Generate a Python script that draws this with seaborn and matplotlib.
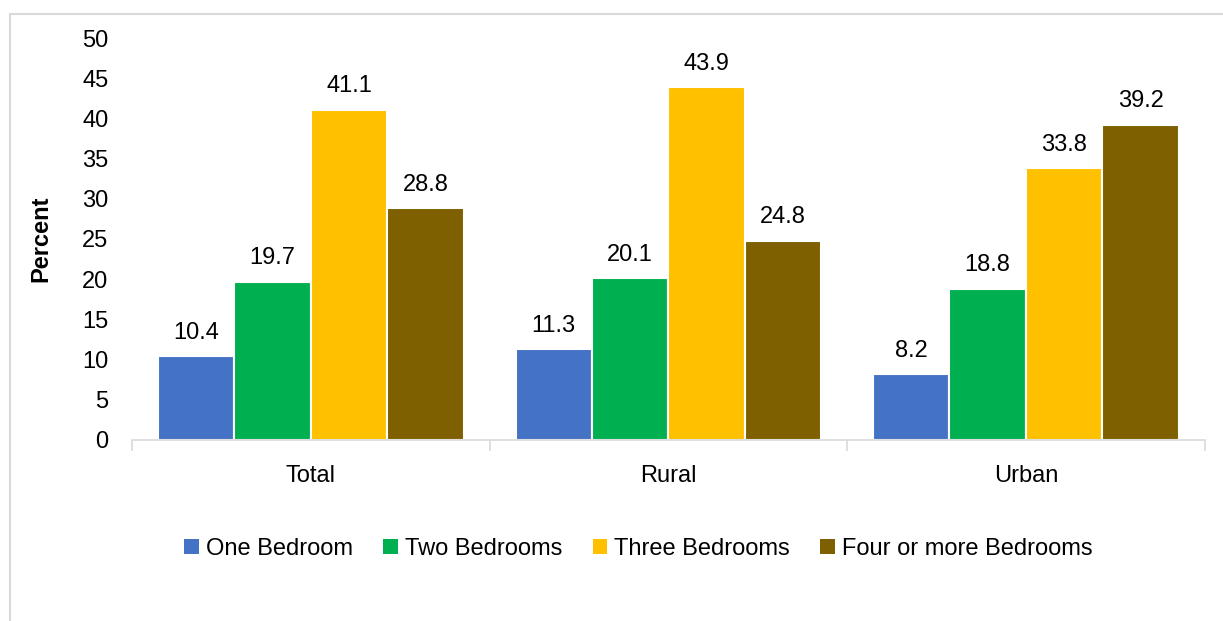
import matplotlib
matplotlib.use('Agg')
import matplotlib.pyplot as plt
import seaborn as sns
import pandas as pd
from matplotlib.lines import Line2D
from matplotlib.patches import Patch
from matplotlib.ticker import FixedLocator

# Datos del gráfico
areas = ['Total', 'Rural', 'Urban']
tipos = ['One Bedroom', 'Two Bedrooms', 'Three Bedrooms', 'Four or more Bedrooms']
one_bedroom = [10.4, 11.3, 8.2]
two_bedrooms = [19.7, 20.1, 18.8]
three_bedrooms = [41.1, 43.9, 33.8]
four_bedrooms = [28.8, 24.8, 39.2]
colores = ['#4472C4', '#00B050', '#FFC000', '#7F6000']

series = [one_bedroom, two_bedrooms, three_bedrooms, four_bedrooms]
df = pd.DataFrame({
    'area': [a for s in series for a in areas],
    'tipo': [t for t, s in zip(tipos, series) for _ in areas],
    'valor': [v for s in series for v in s],
})

sns.set_style('white')
plt.rcParams['font.family'] = ['Liberation Sans', 'DejaVu Sans']
plt.rcParams['text.color'] = 'black'
plt.rcParams['xtick.color'] = 'black'
plt.rcParams['ytick.color'] = 'black'
plt.rcParams['axes.labelcolor'] = 'black'

fs = 17

fig = plt.figure(figsize=(12.23, 6.21), dpi=100)
ax = fig.add_axes([0.108, 0.2915, 0.877, 0.6473])

sns.barplot(data=df, x='area', y='valor', hue='tipo', hue_order=tipos, order=areas,
            palette=colores, width=0.855, edgecolor='white', linewidth=1.5,
            saturation=1, ax=ax)

for cont in ax.containers:
    ax.bar_label(cont, fmt='%.1f', padding=9, fontsize=fs)

ax.set_ylim(0, 50)
ax.set_xlim(-0.5, 2.5)
ax.set_yticks(range(0, 51, 5))
ax.tick_params(axis='y', labelsize=fs, length=0, pad=17)
ax.tick_params(axis='x', which='major', labelsize=fs, length=0, pad=18)
ax.xaxis.set_minor_locator(FixedLocator([-0.5, 0.5, 1.5, 2.5]))
ax.tick_params(axis='x', which='minor', bottom=True, length=8, width=1.2,
               color='#D9D9D9')
ax.set_xlabel('')
ax.set_ylabel('Percent', fontsize=fs, fontweight='bold')
ax.yaxis.set_label_coords(-0.074, 0.5)

for lado in ['top', 'right', 'left']:
    ax.spines[lado].set_visible(False)
ax.spines['bottom'].set_color('#D9D9D9')
ax.spines['bottom'].set_linewidth(1.2)

ax.get_legend().remove()
handles = [Patch(facecolor=c, edgecolor='none') for c in colores]
fig.legend(handles, tipos, loc='center', bbox_to_anchor=(0.522, 0.116), ncol=4,
           frameon=False, fontsize=fs, handlelength=0.6, handleheight=0.6,
           handletextpad=0.3, columnspacing=1.3)

# Borde de la figura
fig.add_artist(Line2D([10/1223, 1], [1 - 14/621] * 2, color='#D9D9D9', lw=1.5))
fig.add_artist(Line2D([10/1223] * 2, [0, 1 - 14/621], color='#D9D9D9', lw=1.5))

fig.savefig('out.png', dpi=100)
